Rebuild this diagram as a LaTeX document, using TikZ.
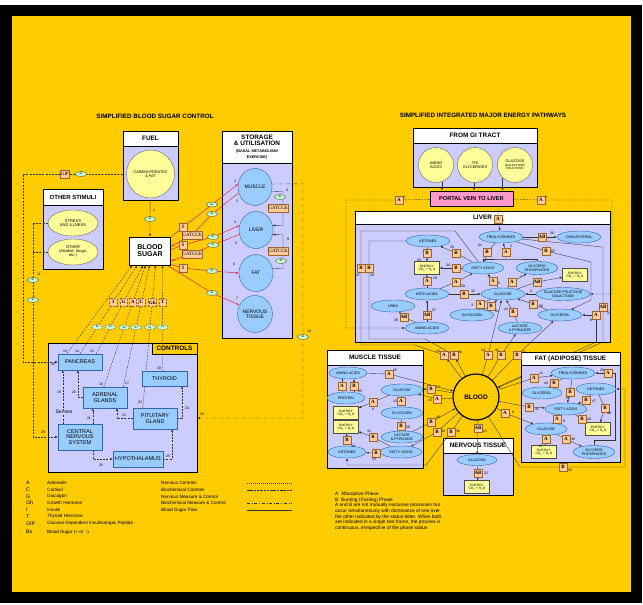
\documentclass[tikz,border=0pt]{standalone}
\usepackage{fontspec}
\setmainfont{Liberation Sans}
\newfontfamily\tagfont{Liberation Serif}
\usetikzlibrary{shapes.geometric,arrows.meta}

\definecolor{bgyellow}{HTML}{FFCC00}
\definecolor{lilac}{HTML}{CCCCFF}
\definecolor{cellblue}{HTML}{99CCFF}
\definecolor{celledge}{HTML}{3366AA}
\definecolor{paleyellow}{HTML}{FFFF99}
\definecolor{peach}{HTML}{FFCC99}
\definecolor{peachedge}{HTML}{996633}
\definecolor{portalpink}{HTML}{FF99CC}
\definecolor{bsgreen}{HTML}{CCFFCC}
\definecolor{flowred}{HTML}{EE2244}
\definecolor{linegray}{HTML}{333333}

\newcommand{\fsz}[1]{\fontsize{#1}{#1}\selectfont}
\newcommand{\nrgtext}{ENERGY\\CO\textsubscript{2} + H\textsubscript{2}O}
% name, x1, y1, x2, y2, bottom of header, title
\newcommand{\panelbox}[7]{%
  \node[panelbody, minimum width={(#4-#2)*1pt}, minimum height={(#5-#3)*1pt}] (#1) at ({(#2+#4)/2},{(#3+#5)/2}) {};
  \node[panelhead, minimum width={(#4-#2)*1pt}, minimum height={(#6-#3)*1pt}] (#1h) at ({(#2+#4)/2},{(#3+#6)/2}) {#7};
}

\pgfdeclarelayer{frame}
\pgfdeclarelayer{farlines}
\pgfdeclarelayer{panels}
\pgfdeclarelayer{nearlines}
\pgfsetlayers{frame,farlines,panels,nearlines,main}

\begin{document}
\begin{tikzpicture}[x=1pt, y=-1pt,
        panelbody/.style={draw=black, line width=1pt, fill=lilac, inner sep=0pt},
        panelhead/.style={draw=black, line width=1pt, fill=white, font=\fsz{6.4}\bfseries, align=center, inner sep=0pt},
        cellov/.style={ellipse, draw=celledge, fill=cellblue, inner sep=0pt, minimum width=44pt, minimum height=12pt, font=\fsz{3.6}, align=center},
        organov/.style={ellipse, draw=celledge, fill=cellblue, inner sep=0pt, minimum width=34pt, minimum height=37pt, font=\fsz{5}, align=center},
        foodcirc/.style={circle, draw=black!60, fill=paleyellow, inner sep=0pt, font=\fsz{3.8}, align=center},
        stimov/.style={ellipse, draw=black!60, fill=paleyellow, minimum width=50pt, minimum height=26pt, inner sep=0pt, font=\fsz{4}, align=center},
        glandbox/.style={rectangle, draw=celledge, fill=cellblue, inner sep=0pt, font=\fsz{5.5}, align=center},
        energybox/.style={rectangle, draw=black!70, fill=paleyellow, minimum width=25pt, minimum height=13pt, inner sep=0pt, font=\fsz{3.2}, align=center},
        phasetag/.style={rectangle, draw=peachedge, fill=peach, inner sep=0.5pt, minimum width=7.5pt, minimum height=7.5pt, font=\tagfont\bfseries\fsz{5}},
        bsov/.style={ellipse, draw=black!70, fill=bsgreen, inner sep=0pt, minimum width=11pt, minimum height=5pt, font=\fsz{2.5}},
        numlbl/.style={font=\fsz{3.5}, inner sep=0pt},
        conn/.style={draw=linegray, line width=0.35pt},
        ctrl/.style={conn, dash pattern=on 2pt off 1.2pt},
        redflow/.style={draw=flowred, line width=0.5pt, ->},
        >={Latex[length=2.6pt,width=2.2pt]}
    ]
    \useasboundingbox (0,0) rectangle (643,605);
    \begin{pgfonlayer}{frame}
    \fill[white] (0,0) rectangle (643,605);
    \fill[black] (0,5) rectangle (642,603);
    \fill[bgyellow] (12,16) rectangle (631,592);
    \end{pgfonlayer}

    \node[font=\fsz{6.3}\bfseries] (ttlleft) at (155,116) {SIMPLIFIED BLOOD SUGAR CONTROL};
    \node[font=\fsz{6.3}\bfseries] (ttlright) at (483,115) {SIMPLIFIED INTEGRATED MAJOR ENERGY PATHWAYS};

    % panels
    \begin{pgfonlayer}{panels}
    \panelbox{fuelbox}{123}{131}{178}{200}{146}{FUEL}
    \panelbox{storebox}{222}{131}{292}{338}{163}{STORAGE\\\& UTILISATION\\{\fsz{3.8}(BASAL METABOLISM/}\\{\fsz{3.8}EXERCISE)}}
    \panelbox{stimbox}{43}{189}{103}{269}{205}{{\fsz{6}OTHER STIMULI}}
    \panelbox{gibox}{413}{128}{537}{187}{143}{FROM GI TRACT}
    \panelbox{liverbox}{355}{211}{610}{342}{224}{LIVER}
    \panelbox{musclebox}{327}{350}{423}{468}{365}{MUSCLE TISSUE}
    \panelbox{fatbox}{521}{352}{620}{462}{365}{FAT (ADIPOSE) TISSUE}
    \panelbox{nervebox}{443}{438}{513}{495}{453}{NERVOUS TISSUE}
    \node[panelbody, minimum width=149pt, minimum height=129pt] (ctrlbox) at (122.5,407.5) {};
    \node[panelhead, fill=bgyellow, minimum width=45pt, minimum height=11pt] (ctrlboxh) at (174.5,348.5) {CONTROLS};
    \end{pgfonlayer}

    % Left diagram - blood sugar control
    \node[foodcirc, minimum size=48pt] (carbs) at (150.5,174) {CARBOHYDRATES\\\& FAT};
    \node[organov] (smuscle) at (255,187) {MUSCLE};
    \node[organov] (sliver) at (256,230) {LIVER};
    \node[organov] (sfat) at (256,273) {FAT};
    \node[organov] (snerve) at (255,314) {NERVOUS\\TISSUE};
    \node[stimov] (stress) at (73,223) {STRESS\\AND ILLNESS};
    \node[stimov] (otherst) at (73,252) {OTHER\\(Alcohol, drugs,\\etc.)};
    \node[draw=black, line width=1pt, fill=white, minimum width=41pt, minimum height=28pt, font=\fsz{7}\bfseries, align=center, inner sep=0pt] (bsugar) at (150,251) {BLOOD\\SUGAR};

    \node[glandbox, minimum width=44pt, minimum height=16pt] (pancreas) at (80,362) {PANCREAS};
    \node[glandbox, minimum width=44pt, minimum height=21pt] (adrenal) at (105,397.5) {ADRENAL\\GLANDS};
    \node[glandbox, minimum width=45pt, minimum height=15pt] (thyroid) at (164.5,378.5) {THYROID};
    \node[glandbox, minimum width=44pt, minimum height=21pt] (pituitary) at (155,418.5) {PITUITARY\\GLAND};
    \node[glandbox, minimum width=44pt, minimum height=26pt] (cns) at (80,437) {CENTRAL\\NERVOUS\\SYSTEM};
    \node[glandbox, minimum width=50pt, minimum height=16pt] (hypo) at (138,459) {HYPOTHALAMUS};
    \node[font=\fsz{5}, fill=lilac, inner sep=0.5pt] (senses) at (64,412) {Senses};

    \node[phasetag, font=\tagfont\fsz{4.8}] (tgip) at (65,174) {GIP};
    \node[bsov] (bsgip) at (81,174) {Bs};
    \node[phasetag, font=\tagfont\fsz{5}] (tg1) at (278,208) {GATCGh};
    \node[phasetag, font=\tagfont\fsz{5}] (tg2) at (278,251) {GATCGh};
    \node[phasetag, font=\tagfont\fsz{5}] (tg3) at (192,235) {GATCGh};
    \node[phasetag, font=\tagfont\fsz{5}] (tg5) at (192,254) {GATCGh};
    \node[phasetag] (ti2) at (183,227) {I};
    \node[phasetag] (ti4) at (183,245) {I};
    \node[phasetag] (ti6) at (183,268) {I};
    \foreach \n/\x/\y in {bs1/150/219, bs2/212/204.5, bs3/212/214, bs4/213/237, bs5/213/245, bs6/212/271, bs7/212/293,
        bs8/280/197, bs9/281/261, bs10/303/337, bs11/33/280, bs28/33/300}
        \node[bsov] (\n) at (\x,\y) {Bs};

    % Right diagram - energy pathways
    \node[foodcirc, minimum size=35pt] (gamino) at (436,165) {AMINO\\ACIDS};
    \node[foodcirc, minimum size=35pt] (gtrig) at (475,165) {TRI\\GLYCERIDES};
    \node[foodcirc, minimum size=35pt] (gglucose) at (515,165) {GLUCOSE\\{\fsz{3}(GALACTOSE/}\\{\fsz{3}FRUCTOSE)}};
    \node[draw=black, line width=0.8pt, fill=portalpink, minimum width=83pt, minimum height=15pt, font=\fsz{5.6}\bfseries, inner sep=0pt] (portal) at (471.5,198.5) {PORTAL VEIN TO LIVER};

    \node[cellov] (ketones) at (428,241) {KETONES};
    \node[cellov] (ltrig) at (501,237) {TRIGLYCERIDES};
    \node[cellov] (chol) at (579,237) {CHOLESTEROL};
    \node[energybox] (lenergya) at (427,268) {\nrgtext};
    \node[cellov, minimum width=42pt] (lfatty) at (483,268) {FATTY ACIDS};
    \node[cellov, minimum width=42pt, minimum height=13pt] (lglyph) at (537,268) {GLYCERO\\PHOSPHATES};
    \node[energybox] (lenergyb) at (575,275) {\nrgtext};
    \node[cellov] (lketo) at (427,294) {KETO ACIDS};
    \node[cellov] (lglucose) at (503,294) {GLUCOSE};
    \node[cellov, minimum width=50pt, minimum height=13pt] (lgfg) at (563,294) {GLUCOSE FRUCTOSE\\GALACTOSE};
    \node[cellov] (lurea) at (393,306) {UREA};
    \node[cellov] (lglycogen) at (472,315) {GLYCOGEN};
    \node[cellov] (lglycerol) at (560,315) {GLYCEROL};
    \node[cellov] (lamino) at (427,328) {AMINO ACIDS};
    \node[cellov] (llactate) at (520,328) {LACTATE\\\& PYRUVATE};

    \node[cellov, minimum width=38pt] (mamino) at (348,373) {AMINO ACIDS};
    \node[cellov, minimum width=38pt] (mprotein) at (346,398) {PROTEIN};
    \node[energybox] (menergya) at (346,413) {\nrgtext};
    \node[energybox] (menergyb) at (346,427) {\nrgtext};
    \node[cellov, minimum width=38pt] (mketones) at (347,452) {KETONES};
    \node[cellov, minimum width=42pt] (mglucose) at (402,390) {GLUCOSE};
    \node[cellov, minimum width=42pt] (mglycogen) at (402,413) {GLYCOGEN};
    \node[cellov, minimum width=42pt] (mlactate) at (402,437) {LACTATE\\\& PYRUVATE};
    \node[cellov, minimum width=42pt] (mfatty) at (401,452) {FATTY ACIDS};

    \node[cellov] (ftrig) at (573,373) {TRIGLYCERIDES};
    \node[cellov, minimum width=40pt] (fglycerol) at (542,393) {GLYCEROL};
    \node[cellov, minimum width=40pt] (fketones) at (596,389) {KETONES};
    \node[cellov, minimum width=42pt] (ffatty) at (566,409) {FATTY ACIDS};
    \node[energybox] (fenergya) at (598,429) {\nrgtext};
    \node[cellov, minimum width=42pt] (fglucose) at (546,429) {GLUCOSE};
    \node[energybox] (fenergyb) at (544,452) {\nrgtext};
    \node[cellov, minimum width=42pt, minimum height=13pt] (fglyph) at (594,452) {GLYCERO\\PHOSPHATES};

    \node[cellov, minimum width=40pt, minimum height=11pt] (nglucose) at (477,460) {GLUCOSE};
    \node[energybox] (nenergy) at (477,487) {\nrgtext};
    \node[circle, draw=black, line width=1.2pt, fill=bgyellow, minimum size=46pt, font=\fsz{6.5}\bfseries, inner sep=0pt] (blood) at (476,397) {BLOOD};

    \foreach \n/\x/\y/\t in {tA1/541/200/A, tA2/399/200/A, tA5/498/219/A,
        tL35/427/253/B, tL33/456/253/B, tL61/487/252/B, tL2/506/252/A, tL30/542/237/AB, tL62/546/251/B,
        tL34/456/268/B, tL29/427/281/A, tL30b/456/282/A, tL6/493/281/A, tL7/512/282/A, tLab/537/282/AB,
        tL32/464/294/B, tL3/480/304/A, tL31/491/306/B, tL42/513/312/B, tL36/533/304/B, tL37/427/315/AB,
        tL39/404/317/AB, tAB21/603/307/AB, tA9/596/315/A, tL37b/361/268/B, tL38b/369/268/B,
        tA24/444/355/A, tB30/454/355/B, tA13/488/355/A, tB41/501/355/B, tB31/517/355/B,
        tMA/342/386/A, tM35/354/386/B, tM8/373/402/A, tM13/401/401/A, tM59/401/426/B, tM31/373/437/B,
        tM30/347/440/B, tM15/376/453/B, tM25/389/374/A, tM17/431/389/B, tM13b/437/399/A, tM40/431/422/B,
        tM58/437/432/B, tM39/451/432/B,
        tF12/534/378/A, tF44/554/383/B, tF26/608/373/A, tF43/570/392/B, tF47/586/400/B, tF48/605/408/B,
        tF45/529/407/B, tF9/557/419/A, tF46/582/419/B, tF37/546/439/A, tF38/566/439/A, tF8/505/413/A,
        tF50/563/467/B, tN21/478/428/AB, tN22/478/473/AB}
        \node[phasetag] (\n) at (\x,\y) {\t};

    % step numbers
    \foreach [count=\i] \x/\y/\t in {154/210/1, 235/181/2, 237/201/3, 235/222/4, 236/243/5, 234/264/6, 237/298/7,
        287/190/8, 288/239/9, 309/331/10, 39/274/11, 65/351/13, 77/351/14, 92/351/15, 101/384/16, 127/383/17,
        159/368/18, 59/392/19, 74/392/20, 89/418/21, 124/415/22, 140/402/23, 187/408/24, 168/456/25,
        101/465/26, 43/432/28, 202/414/29, 53/364/30,
        546/197/1, 404/197/2, 503/220/5, 419/260/35, 452/247/33, 480/245/61, 511/246/2, 552/233/30,
        553/251/62, 448/265/34, 435/278/29, 463/286/30, 499/283/6, 521/277/7, 473/291/32, 472/305/3,
        497/311/31, 506/309/42, 541/306/36, 434/310/37, 396/320/39, 609/313/21, 591/320/9, 358/275/37,
        372/275/38, 531/291/4, 438/351/24, 460/352/30, 483/350/13, 497/350/41, 524/352/31,
        360/391/35, 373/409/8, 395/401/13, 408/427/59, 369/431/31, 353/446/30, 374/459/15, 395/370/25,
        438/387/17, 430/400/13, 438/417/40, 443/431/58, 458/431/39,
        541/373/12, 546/383/44, 602/370/26, 568/398/43, 594/401/47, 609/413/48, 537/409/45, 564/421/9,
        589/419/46, 541/446/37, 573/439/38, 513/412/8, 570/470/50, 485/431/21, 486/473/22}
        \node[numlbl] (nl\i) at (\x,\y) {\t};

    \coordinate (c29) at (303,418);
    \coordinate (lr1) at (596,342);
    \coordinate (lr2) at (603,342);

    \begin{pgfonlayer}{farlines}
    \draw[conn] (lr1) -- (blood);
    \draw[conn,->] (lr2) -- (blood);
    \end{pgfonlayer}

    \begin{pgfonlayer}{nearlines}
    % fuel, stimuli and controls
    \draw[conn,->] (fuelbox) -- (bs1) -- (bsugar);
    \draw[ctrl,->] ([yshift=-8.5pt]fuelbox.west) -- (bsgip) -- (tgip) -- (23,174) -- (23,362) -- (pancreas);
    \draw[ctrl] (stress) -- (33,223) -- (33,252);
    \draw[ctrl,->] (otherst) -- (33,252) -- (33,437) -- (cns);
    \draw[conn, dash dot, ->] (smuscle.10) -- (303,183.8) -- (c29) -- (ctrlbox.east |- c29);
    \draw[conn,->] (smuscle.-15) -- (283,191.8) -- (283,225.2) -- (sliver.15);
    \draw[conn,->] (sfat.15) -- (283,268.2) -- (283,234.8) -- (sliver.-15);

    \draw[redflow] (bsugar.34) -- (ti2) -- (bs2) -- (smuscle.170);
    \draw[redflow] (smuscle.200) -- (bs3) -- (tg3) -- (bsugar.12);
    \draw[redflow] (bsugar.4) -- (ti4) -- (bs4) -- (sliver.165);
    \draw[redflow] (sliver.195) -- (bs5) -- (tg5) -- (bsugar.-25);
    \draw[redflow] (bsugar.-33) -- (ti6) -- (bs6) -- (sfat.180);
    \draw[redflow] (bsugar.-40) -- (bs7) -- (snerve.150);

    \draw[ctrl,->] ([xshift=9pt]pancreas.north west) -- ([xshift=3pt]bsugar.south west);
    \draw[ctrl,->] (pancreas.north) -- node[bsov,pos=0.303] (bs14) {Bs} node[phasetag,pos=0.584] (ti14) {I} ([xshift=8pt]bsugar.south west);
    \draw[ctrl,->] ([xshift=-6pt]pancreas.north east) -- node[bsov,pos=0.303] (bs15) {Bs} node[phasetag,pos=0.584] (tg15) {G} ([xshift=14pt]bsugar.south west);
    \draw[ctrl,->] ([xshift=21pt]adrenal.north west) -- node[bsov,pos=0.49] (bs16) {Bs} node[phasetag,pos=0.697] (ta16) {A} ([xshift=16.5pt]bsugar.south west);
    \draw[ctrl,->] ([xshift=-4pt]adrenal.north east) -- node[bsov,pos=0.49] (bs17) {Bs} node[phasetag,pos=0.697] (tc17) {C} ([xshift=20.5pt]bsugar.south west);
    \draw[ctrl,->] ([xshift=10pt]pituitary.north west) -- node[bsov,pos=0.566] (bs23) {Bs} node[phasetag,pos=0.741] (tgh23) {Gh} ([xshift=26.5pt]bsugar.south west);
    \draw[ctrl,->] ([xshift=21pt]thyroid.north west) -- node[bsov,pos=0.415] (bs18) {Bs} node[phasetag,pos=0.651] (tt18) {T} ([xshift=33.5pt]bsugar.south west);

    \draw[ctrl,->] ([xshift=5pt]cns.north west) -- ([xshift=5pt]pancreas.south west);
    \draw[ctrl,->] (adrenal.west) -| ([xshift=20pt]pancreas.south west);
    \draw[ctrl,->] ([xshift=35pt]cns.north west) -- ([xshift=10pt]adrenal.south west);
    \draw[ctrl,->] (pituitary.west) -| ([xshift=34pt]adrenal.south west);
    \draw[ctrl,->] (pituitary.east) -| ([xshift=-5pt]thyroid.south east);
    \draw[ctrl,->] (hypo.east) -| ([xshift=-5pt]pituitary.south east);
    \draw[ctrl,->] ([xshift=35pt]cns.south west) |- (hypo.west);

    % GI tract and liver
    \draw[conn,->] (gamino.-70) -- (gamino.-70 |- portal.north);
    \draw[conn,->] (gtrig.-93) -- (gtrig.-93 |- portal.north);
    \draw[conn,->] (gglucose.-135) -- (gglucose.-135 |- portal.north);
    \draw[ctrl,->] (portal) -- (tA2) -- (346,200) -- (346,328) -- (lamino);
    \draw[ctrl,->] (portal) -- (tA1) -- (612,200) -- (612,294) -- (lgfg);
    \draw[conn,->] ([xshift=26.5pt]portal.south) -- (tA5) -- (ltrig);

    \draw[conn,->] (ltrig) -- (tL61) -- (lfatty);
    \draw[conn] (lfatty) |- (506,259) -| (lglyph);
    \draw[conn,->] (506,259) -- (tL2) -- (ltrig);
    \draw[conn,->] (ltrig) -- (tL30) -- (chol);
    \draw[conn,->] (lfatty) -- (tL33) -- (ketones);
    \draw[conn,->] (ketones) -- (tL35) -- (lenergya);
    \draw[conn,->] (lfatty) -- (tL34) -- (lenergya);
    \draw[conn,->] (lketo) -- (tL29) -- (lenergya);
    \draw[conn,->] (lketo) -- (tL30b) -- (lfatty);
    \draw[conn,->] (lglucose) -- (tL6) -- (lfatty);
    \draw[conn,->] (lglucose) -- (tL7) -- (lglyph);
    \draw[conn,->] (lglucose) -- (tLab) -- (lenergyb);
    \draw[conn,->] (lketo) -- (tL32) -- (lglucose);
    \draw[conn,->] (lgfg) -- (lglucose);
    \draw[conn,->] (lglucose) -- (tL3) -- (lglycogen);
    \draw[conn,->] (lglycogen) -- (tL31) -- (lglucose);
    \draw[conn,->] (llactate) -- (tL42) -- (lglucose);
    \draw[conn,->] (lglycerol) -- (tL36) -- (lglucose);
    \draw[conn,->] (lamino) -- (tL37) -- (lketo);
    \draw[conn,->] (lamino) -- (tL39) -- (lurea);
    \draw[conn,->] (ltrig) -- (tL62) -- (591,262) -- (591,300) -- (lglycerol);
    \draw[conn] (ltrig) -- (603,247) -- (tAB21) -- (lr2);
    \draw[conn,->] (lr1) -- (tA9) -- (lglycerol);
    \draw[conn,<-] (lfatty) -- (455,231) -- (361,231) -- (tL37b) -- (361,345) -- (415,345) -- (tA24) -- (blood);
    \draw[conn,<-] (ketones) -- (369,241) -- (tL38b) -- (369,339) -- (425,339) -- (tB30) -- (blood);
    \draw[conn,->] (blood) -- (tA13) -- (lglucose);
    \draw[conn,->] (blood) -- (tB41) -- (llactate);
    \draw[conn,->] (blood) -- (tB31) -- (lglycerol);

    % muscle
    \draw[conn,->] ([xshift=-6pt]mamino.south) -- (tMA) -- ([xshift=-4pt]mprotein.north);
    \draw[conn,->] ([xshift=8pt]mprotein.north) -- (tM35) -- ([xshift=6pt]mamino.south);
    \draw[conn,->] (mglucose) -- (tM8) -- (menergya);
    \draw[conn,->] (mglucose) -- (tM13) -- (mglycogen);
    \draw[conn,->] (mglycogen) -- (tM59) -- (mlactate);
    \draw[conn,->] (mfatty) -- (tM31) -- (menergyb);
    \draw[conn,->] (mketones) -- (tM30) -- (menergyb);
    \draw[conn,->] (mfatty) -- (tM15) -- (mketones);
    \draw[conn,->] (mamino) -- (tM25) -- (blood);
    \draw[conn,->] (blood) -- (tM17) -- (mglucose);
    \draw[conn,->] (blood) -- (tM13b) -- (mglucose);
    \draw[conn,->] (mlactate) -- (tM40) -- (blood);
    \draw[conn,->] (blood) -- (tM58) -- (mfatty);
    \draw[conn,->] (blood) -- (tM39) -- (426,465) -- (347,465) -- (mketones);

    % fat and nervous tissue
    \draw[conn,->] (blood) -- (tF12) -- (ftrig);
    \draw[conn,->] (ftrig) -- (tF44) -- (fglycerol);
    \draw[conn,->] (ftrig) -- (tF43) -- (ffatty);
    \draw[conn,->] (fketones) -- (tF47) -- (ffatty);
    \draw[conn,->] (fketones) -- (tF48) -- (fenergya);
    \draw[conn,->] (blood) -- (tF45) -- (ffatty);
    \draw[conn,->] (fglucose) -- (tF9) -- (ffatty);
    \draw[conn,->] (ffatty) -- (tF46) -- (fenergya);
    \draw[conn,->] (fglucose) -- (tF37) -- (fenergyb);
    \draw[conn,->] (fglucose) -- (tF38) -- (fglyph);
    \draw[conn,->] (blood) -- (tF8) -- (fglucose);
    \draw[conn,->] (fglyph) |- (615,440) -- (615,373) -- (tF26) -- (ftrig);
    \draw[conn,->] (blood) -- (520,467) -- (tF50) -- (625,467) -- (625,389) -- (fketones);
    \draw[conn,->] (blood) -- (tN21) -- (nglucose);
    \draw[conn,->] (nglucose) -- (tN22) -- (nenergy);
    \end{pgfonlayer}

    % legends
    \foreach [count=\i] \ab/\txt/\y in {A/Adrenalin/483, C/Cortisol/490, G/Glucagon/496.5, Gh/Growth Hormone/503,
        I/Insulin/510, T/Thyroid Hormone/516.5, GIP/Glucose Dependent Insulinotropic Peptide/523.5, Bs/Blood Sugar (+ or \ -)/532}{
        \node[anchor=west, font=\fsz{5.2}, inner sep=0pt] (lgab\i) at (26,\y) {\ab};
        \node[anchor=west, font=\fsz{4.6}, inner sep=0pt] (lgtx\i) at (47,\y) {\txt};
    }
    \foreach [count=\i] \txt/\y in {Nervous Controls/483, Biochemical Controls/490, Nervous Measure \& Control/496.5,
        Biochemical Measure \& Control/503, Blood Sugar Flow/510}
        \node[anchor=west, font=\fsz{4.6}, inner sep=0pt] (lgln\i) at (161,\y) {\txt};
    \draw[conn, dash pattern=on 1.2pt off 0.8pt] (247,483) -- (292,483);
    \draw[conn, dash pattern=on 2.5pt off 0.8pt] (247,490) -- (292,490);
    \draw[conn, dash dot] (247,503) -- (292,503);
    \draw[conn] (247,510) -- (292,510);
    \node[anchor=north west, align=left, font=\fontsize{4.8}{5.6}\selectfont, inner sep=0pt] (phasenote) at (335,492)
        {A\ \ Absorptive Phase\\B\ \ Burning (Fasting) Phase\\A and B are not mutually exclusive processes but\\occur simultaneously with dominance of one over\\the other indicated by the status letter. When both\\are indicated in a single text frame, the process is\\continuous, irrespective of the phase status};
\end{tikzpicture}
\end{document}
